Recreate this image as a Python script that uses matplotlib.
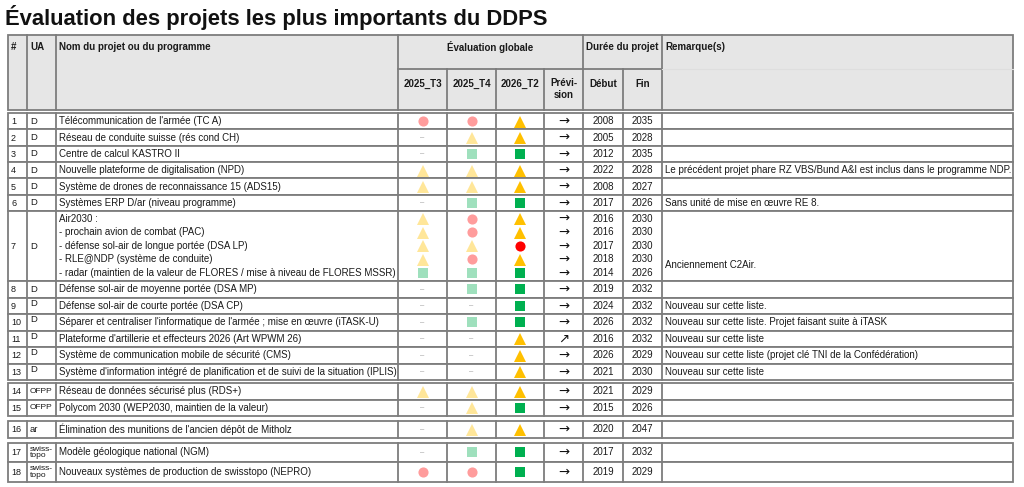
import matplotlib.pyplot as plt

plt.rcParams['font.family'] = ['Liberation Sans', 'DejaVu Sans']

title = "Évaluation des projets les plus importants du DDPS"

nums = [str(i) for i in range(1, 19)]
ua = ['D'] * 13 + ['OFPP', 'OFPP', 'ar', 'swiss-\ntopo', 'swiss-\ntopo']
names = [
    "Télécommunication de l'armée (TC A)",
    "Réseau de conduite suisse (rés cond CH)",
    "Centre de calcul KASTRO II",
    "Nouvelle plateforme de digitalisation (NPD)",
    "Système de drones de reconnaissance 15 (ADS15)",
    "Systèmes ERP D/ar (niveau programme)",
    ["Air2030 :",
     "- prochain avion de combat (PAC)",
     "- défense sol-air de longue portée (DSA LP)",
     "- RLE@NDP (système de conduite)",
     "- radar (maintien de la valeur de FLORES / mise à niveau de FLORES MSSR)"],
    "Défense sol-air de moyenne portée (DSA MP)",
    "Défense sol-air de courte portée (DSA CP)",
    "Séparer et centraliser l'informatique de l'armée ; mise en œuvre (iTASK-U)",
    "Plateforme d'artillerie et effecteurs 2026 (Art WPWM 26)",
    "Système de communication mobile de sécurité (CMS)",
    "Système d'information intégré de planification et de suivi de la situation (IPLIS)",
    "Réseau de données sécurisé plus (RDS+)",
    "Polycom 2030 (WEP2030, maintien de la valeur)",
    "Élimination des munitions de l'ancien dépôt de Mitholz",
    "Modèle géologique national (NGM)",
    "Nouveaux systèmes de production de swisstopo (NEPRO)",
]
# r = cercle, y = triangle, g = carré, - = pas d'évaluation ; plusieurs lettres = sous-lignes
eval_2025_t3 = ['r', '-', '-', 'y', 'y', '-', 'yyyyg', '-', '-', '-', '-', '-', '-',
                'y', '-', '-', '-', 'r']
eval_2025_t4 = ['r', 'y', 'g', 'y', 'y', 'g', 'rryrg', 'g', '-', 'g', '-', '-', '-',
                'y', 'y', 'y', 'g', 'r']
eval_2026_t2 = ['y', 'y', 'g', 'y', 'y', 'g', 'yyryg', 'g', 'g', 'g', 'y', 'y', 'y',
                'y', 'g', 'y', 'g', 'g']
prevision = ['→'] * 6 + [['→'] * 5] + ['→'] * 3 + ['↗'] + ['→'] * 7
debut = [2008, 2005, 2012, 2022, 2008, 2017, [2016, 2016, 2017, 2018, 2014],
         2019, 2024, 2026, 2016, 2026, 2021, 2021, 2015, 2020, 2017, 2019]
fin = [2035, 2028, 2035, 2028, 2027, 2026, [2030, 2030, 2030, 2030, 2026],
       2032, 2032, 2032, 2032, 2029, 2030, 2029, 2026, 2047, 2032, 2029]
remarques = [
    "", "", "",
    "Le précédent projet phare RZ VBS/Bund A&I est inclus dans le programme NDP.",
    "",
    "Sans unité de mise en œuvre RE 8.",
    "Anciennement C2Air.",
    "",
    "Nouveau sur cette liste.",
    "Nouveau sur cette liste. Projet faisant suite à iTASK",
    "Nouveau sur cette liste",
    "Nouveau sur cette liste (projet clé TNI de la Confédération)",
    "Nouveau sur cette liste",
    "", "", "", "", "",
]

# mise en page (pixels)
cols = [8, 27, 56, 398, 447, 496, 544, 583, 623, 662, 1013]
eval_x = [422.5, 471.5, 520]
light = {'r': '#ff9c9c', 'y': '#ffe699', 'g': '#9fe0bd'}
strong = {'r': '#ff0000', 'y': '#ffc000', 'g': '#00b050'}
marker = {'r': 'o', 'y': '^', 'g': 's'}
msize = {'r': 7.3, 'y': 8.0, 'g': 6.8}
line_c = '#7d7d7d'
txt_c = '#1a1a1a'
fs = 7

fig = plt.figure(figsize=(10.24, 4.87), dpi=100)
ax = fig.add_axes([0, 0, 1, 1])
ax.set_xlim(0, 1024)
ax.set_ylim(487, 0)
ax.axis('off')

ax.text(5, 18, title, fontsize=15.8, fontweight='bold', va='center', ha='left', color='#111111')

# en-tête
h_top, h_mid, h_bot = 35, 69, 110
ax.add_patch(plt.Rectangle((cols[0], h_top), cols[-1] - cols[0], h_bot - h_top,
                           facecolor='#e6e6e6', edgecolor=line_c, lw=1.3))
for x in [27, 56, 398, 583, 662]:
    ax.plot([x, x], [h_top, h_bot], color=line_c, lw=1.3)
for x in [447, 496, 544, 623]:
    ax.plot([x, x], [h_mid, h_bot], color=line_c, lw=1.3)
ax.plot([398, 662], [h_mid, h_mid], color=line_c, lw=1.3)
ax.plot([662, 1013], [h_mid, h_mid], color='#dedede', lw=0.8)

hb = dict(fontsize=fs, fontweight='bold', color=txt_c, va='center')
ax.text(11, 47, '#', ha='left', **hb)
ax.text(30, 47, 'UA', ha='left', **hb)
ax.text(59, 47, 'Nom du projet ou du programme', ha='left', **hb)
ax.text(490.5, 47, 'Évaluation globale', ha='center', **hb)
ax.text(622.5, 47, 'Durée du projet', ha='center', **hb)
ax.text(665, 47, 'Remarque(s)', ha='left', **hb)
for lab, x in zip(['2025_T3', '2025_T4', '2026_T2'], eval_x):
    ax.text(x, 84, lab, ha='center', **hb)
ax.text(563.5, 89, 'Prévi-\nsion', ha='center', linespacing=1.15, **hb)
ax.text(603, 84, 'Début', ha='center', **hb)
ax.text(642.5, 84, 'Fin', ha='center', **hb)

# hauteurs de lignes
heights = [16.35] * 6 + [70] + [16.5] * 6 + [16.5, 16.5, 16.5, 19.5, 19.5]
gap_before = {0: 3, 13: 3, 15: 5, 16: 5}


def draw_symbol(x, y, code, col_idx):
    if code == '-':
        ax.text(x, y, '–', fontsize=5.5, color='#9a9a9a', ha='center', va='center')
        return
    c = strong[code] if col_idx == 2 else light[code]
    ax.plot([x], [y + (0.5 if code == 'y' else 0)], marker=marker[code], ms=msize[code],
            color=c, ls='none', markeredgewidth=0)


y = h_bot
for i in range(18):
    y += gap_before.get(i, 0)
    h = heights[i]
    top, bot = y, y + h
    ax.add_patch(plt.Rectangle((cols[0], top), cols[-1] - cols[0], h,
                               facecolor='white', edgecolor=line_c, lw=1.3))
    for x in cols[1:-1]:
        ax.plot([x, x], [top, bot], color=line_c, lw=1.3)
    yc = (top + bot) / 2
    ax.text(11, yc + 0.5, nums[i], fontsize=6.5, color=txt_c, ha='left', va='center')
    if '\n' in ua[i]:
        ax.text(30, yc, ua[i], fontsize=6, color=txt_c, ha='left', va='center', linespacing=0.9)
    else:
        ua_fs = 6 if len(ua[i]) > 2 else 6.8
        ua_y = yc - 2.5 if 8 <= i <= 12 else yc
        ax.text(30, ua_y, ua[i], fontsize=ua_fs, color=txt_c, ha='left', va='center')

    if isinstance(names[i], list):
        n = len(names[i])
        ys = [top + 7.5 + k * 13.6 for k in range(n)]
        for k, s in enumerate(names[i]):
            ax.text(59, ys[k], s, fontsize=fs, color=txt_c, ha='left', va='center')
    else:
        n = 1
        ys = [yc]
        ax.text(59, yc, names[i], fontsize=fs, color=txt_c, ha='left', va='center')

    for ci, ev in enumerate([eval_2025_t3, eval_2025_t4, eval_2026_t2]):
        for k, code in enumerate(ev[i]):
            draw_symbol(eval_x[ci], ys[k], code, ci)

    pv = prevision[i] if isinstance(prevision[i], list) else [prevision[i]]
    d0 = debut[i] if isinstance(debut[i], list) else [debut[i]]
    d1 = fin[i] if isinstance(fin[i], list) else [fin[i]]
    for k in range(n):
        ax.text(563.5, ys[k], pv[k], fontsize=9.5, color='#111111', ha='center', va='center',
                family='DejaVu Sans')
        ax.text(603, ys[k], str(d0[k]), fontsize=fs, color=txt_c, ha='center', va='center')
        ax.text(642.5, ys[k], str(d1[k]), fontsize=fs, color=txt_c, ha='center', va='center')

    if remarques[i]:
        ry = top + 54 if n > 1 else yc
        ax.text(665, ry, remarques[i], fontsize=fs, color=txt_c, ha='left', va='center')
    y = bot

fig.savefig('out.png', dpi=100)
